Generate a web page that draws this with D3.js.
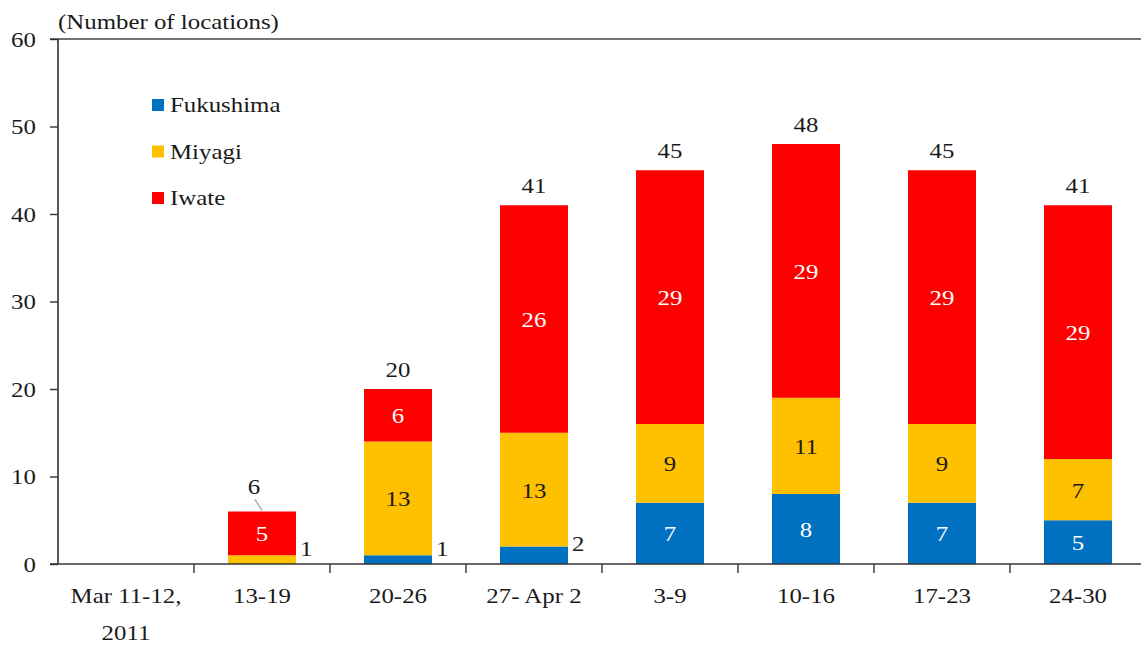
<!DOCTYPE html>
<html>
<head>
<meta charset="utf-8">
<script src="https://cdn.jsdelivr.net/npm/d3@7"></script>
<style>
  body { margin: 0; background: #fff; }
  svg { display: block; }
  text { font-family: "Liberation Serif", "Times New Roman", serif; fill: #1a1a1a; }
</style>
</head>
<body>
<svg id="chart"></svg>
<script>
var width = 1141;
var height = 646;
var SX = 1.13; // source text is a bit stretched sideways

var categories = ['Mar 11-12,\n2011', '13-19', '20-26', '27- Apr 2', '3-9', '10-16', '17-23', '24-30'];
var fukushima = [0, 0, 1, 2, 7, 8, 7, 5];
var miyagi    = [0, 1, 13, 13, 9, 11, 9, 7];
var iwate     = [0, 5, 6, 26, 29, 29, 29, 29];
var yTicks = [0, 10, 20, 30, 40, 50, 60];

var seriesNames = ['Fukushima', 'Miyagi', 'Iwate'];
var seriesColors = ['#0070c0', '#ffc000', '#ff0000'];
var labelColors = ['#ffffff', '#1a1a1a', '#ffffff'];

var rows = categories.map(function (c, i) {
    return { cat: c, Fukushima: fukushima[i], Miyagi: miyagi[i], Iwate: iwate[i] };
});

var svg = d3.select('#chart').attr('width', width).attr('height', height);

var x = d3.scaleBand()
  .domain(categories)
  .range([58, 1146])
  .paddingInner(0.5)
  .paddingOuter(0.25);

var y = d3.scaleLinear().domain([0, 60]).range([564, 39]);

function stext (sel, px, py) {
    return sel.attr('transform', 'translate(' + px + ',' + py + ') scale(' + SX + ',1)');
}

// top border
svg.append('line')
  .attr('x1', 50).attr('x2', width)
  .attr('y1', y(60)).attr('y2', y(60))
  .attr('stroke', '#444').attr('stroke-width', 1.6);

// stacked bars
var stack = d3.stack().keys(seriesNames);
var layers = stack(rows);

var g = svg.append('g');
layers.forEach(function (layer, k) {
    g.selectAll('rect.s' + k)
      .data(layer)
      .enter().append('rect')
      .attr('class', 's' + k)
      .attr('x', function (d) { return x(d.data.cat); })
      .attr('width', x.bandwidth())
      .attr('y', function (d) { return y(d[1]); })
      .attr('height', function (d) { return y(d[0]) - y(d[1]); })
      .attr('fill', seriesColors[k]);
});

// segment labels
layers.forEach(function (layer, k) {
    layer.forEach(function (d) {
        var v = d[1] - d[0];
        if (v <= 0) return;
        var mid = y((d[0] + d[1]) / 2);
        var t = svg.append('text').attr('font-size', 22).text(v);
        if (v < 3) {
            stext(t, x(d.data.cat) + x.bandwidth() + 4, mid - 4)
              .attr('text-anchor', 'start');
        } else {
            stext(t, x(d.data.cat) + x.bandwidth() / 2, mid + 8)
              .attr('text-anchor', 'middle')
              .style('fill', labelColors[k]);
        }
    });
});

// totals
rows.forEach(function (r) {
    var total = r.Fukushima + r.Miyagi + r.Iwate;
    if (total <= 0) return;
    var cx = x(r.cat) + x.bandwidth() / 2;
    var top = y(total);
    var t = svg.append('text').attr('font-size', 22).attr('text-anchor', 'middle').text(total);
    if (total < 10) {
        stext(t, cx - 8, top - 18);
        svg.append('line')
          .attr('x1', cx - 7).attr('y1', top - 12)
          .attr('x2', cx).attr('y2', top - 1)
          .attr('stroke', '#999').attr('stroke-width', 1.2);
    } else {
        stext(t, cx, top - 12);
    }
});

// y axis
var yAxis = svg.append('g')
  .attr('transform', 'translate(58,0)')
  .call(d3.axisLeft(y).tickValues(yTicks).tickSize(8).tickPadding(11.5));
yAxis.select('.domain').attr('stroke', '#333').attr('stroke-width', 1.6)
  .attr('d', 'M0,' + y(60) + 'V' + y(0));
yAxis.selectAll('.tick line').attr('stroke', '#333').attr('stroke-width', 1.4);
yAxis.selectAll('.tick text')
  .attr('font-size', 22)
  .attr('font-family', '"Liberation Serif", serif')
  .attr('fill', '#1a1a1a')
  .attr('dy', '0.34em')
  .attr('transform', 'scale(' + SX + ',1)');

// x axis
svg.append('line')
  .attr('x1', 50).attr('x2', width)
  .attr('y1', y(0)).attr('y2', y(0))
  .attr('stroke', '#333').attr('stroke-width', 1.6);

var gap = x.step() - x.bandwidth();
categories.forEach(function (c, i) {
    if (i > 0) {
        var bx = x(c) - gap / 2;
        svg.append('line')
          .attr('x1', bx).attr('x2', bx)
          .attr('y1', y(0)).attr('y2', y(0) + 9)
          .attr('stroke', '#333').attr('stroke-width', 1.4);
    }
    var lines = c.split('\n');
    var t = svg.append('text').attr('font-size', 22).attr('text-anchor', 'middle');
    stext(t, x(c) + x.bandwidth() / 2, 603);
    lines.forEach(function (ln, j) {
        t.append('tspan').attr('x', 0).attr('dy', j === 0 ? 0 : 37).text(ln);
    });
});

// axis title
stext(svg.append('text').attr('font-size', 22).text('(Number of locations)'), 58, 29);

// legend
seriesNames.forEach(function (name, k) {
    var ly = 112 + k * 46.5;
    svg.append('rect')
      .attr('x', 152).attr('y', ly - 13)
      .attr('width', 12).attr('height', 12)
      .attr('fill', seriesColors[k]);
    stext(svg.append('text').attr('font-size', 22).text(name), 170, ly);
});
</script>
</body>
</html>
